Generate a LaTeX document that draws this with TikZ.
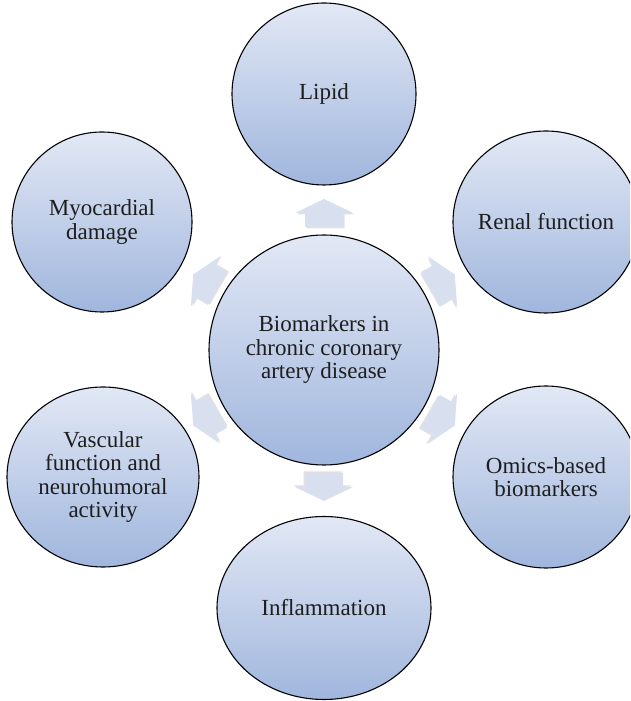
\documentclass[tikz,border=0pt]{standalone}
\usepackage{fontspec}
\setmainfont{Liberation Serif}
\usetikzlibrary{shapes.geometric}
\definecolor{ctop}{RGB}{226,232,245}
\definecolor{cbot}{RGB}{160,182,221}
\definecolor{arrfill}{RGB}{216,224,240}
\definecolor{arrshadow}{RGB}{170,170,175}
\definecolor{txt}{RGB}{30,30,30}
\begin{document}
\begin{tikzpicture}[x=1pt,y=1pt,
  bub/.style={ellipse, draw=black, line width=1.1pt, top color=ctop, bottom color=cbot,
    align=center, text=txt, font=\fontsize{23}{23.5}\selectfont, inner sep=-20pt},
  blockarrow/.style={fill=arrfill, draw=none},
  blockshadow/.style={fill=arrshadow, opacity=0.35, draw=none}]
\clip (0,0) rectangle (630,701);
\fill[white] (0,0) rectangle (630,701);
% centre
\node[bub, minimum width=230pt, minimum height=230pt] (c) at (324,351)
  {Biomarkers in\\chronic coronary\\artery disease};
% outer nodes
\node[bub, minimum width=184pt, minimum height=182pt] (lipid) at (324,607) {Lipid};
\node[bub, minimum width=186pt, minimum height=182pt] (renal) at (546,479) {Renal function};
\node[bub, minimum width=186pt, minimum height=182pt] (omics) at (546,224) {Omics-based\\biomarkers};
\node[bub, minimum width=214pt, minimum height=183pt] (infl) at (324,93) {Inflammation};
\node[bub, minimum width=192pt, minimum height=180pt] (vasc) at (103,224) {Vascular\\function and\\neurohumoral\\activity};
\node[bub, minimum width=180pt, minimum height=180pt] (myo) at (102,479) {Myocardial\\damage};
% block arrows from the centre towards lipid, renal, omics, infl, vasc, myo
\foreach \a in {90,30,-30,-90,-150,150} {
  \fill[blockshadow, shift={(c.center)}, rotate=\a, xshift=-1.5pt, yshift=-1.5pt]
    (123,-19) -- (137,-19) -- (137,-29) -- (151,0) -- (137,29) -- (137,19) -- (123,19) -- cycle;
  \fill[blockarrow, shift={(c.center)}, rotate=\a]
    (123,-19) -- (137,-19) -- (137,-29) -- (151,0) -- (137,29) -- (137,19) -- (123,19) -- cycle;
}
\end{tikzpicture}
\end{document}
